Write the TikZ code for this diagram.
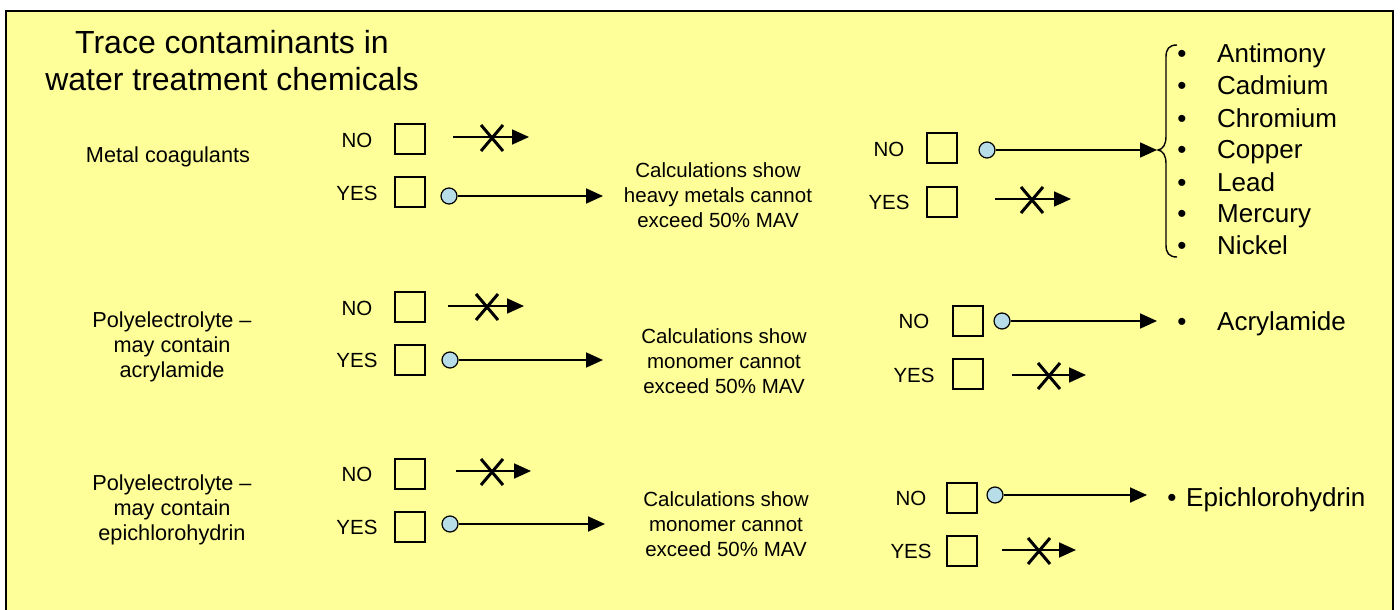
\documentclass[tikz,border=0pt]{standalone}
\usepackage{fontspec}
\setmainfont{Liberation Sans}
\usetikzlibrary{arrows.meta,calc}
\definecolor{bgyellow}{RGB}{255,255,153}
\definecolor{dotblue}{RGB}{183,221,232}
\tikzset{
 lbl/.style={font=\fontsize{20.5}{25}\selectfont, align=center, inner sep=0pt},
 side/.style={font=\fontsize{21.7}{25}\selectfont, align=center, inner sep=0pt},
 yn/.style={font=\fontsize{20.5}{25}\selectfont, inner sep=0pt, text height=14.7pt, text depth=0pt},
 ttl/.style={font=\fontsize{32}{37}\selectfont, align=center, inner sep=0pt},
 chk/.style={draw, line width=2pt, minimum width=30pt, minimum height=30pt, inner sep=0pt},
 dot/.style={circle, draw, line width=1.2pt, fill=dotblue, minimum size=16pt, inner sep=0pt},
 arr/.style={line width=1.8pt, -{Triangle[length=17pt,width=15pt]}},
 big/.style={font=\fontsize{26}{32}\selectfont, anchor=west, inner sep=0pt, text height=18.6pt, text depth=0pt},
 bul/.style={font=\fontsize{26}{32}\selectfont, inner sep=0pt, text height=18.6pt, text depth=0pt},
 cross/.style={line width=3pt},
}
\newcommand{\xmark}[1]{\draw[cross] ($(#1)+(-11,-13)$) -- ($(#1)+(11,13)$); \draw[cross] ($(#1)+(-11,13)$) -- ($(#1)+(11,-13)$);}
\begin{document}
\begin{tikzpicture}[x=1pt,y=-1pt]
\useasboundingbox (0,0) rectangle (1400,610);
\begin{scope}
\clip (0,0) rectangle (1400,610);
\fill[white] (0,0) rectangle (1400,610);
\draw[fill=bgyellow, line width=2pt] (6,11) rectangle (1393,650);
\end{scope}

% title
\node[ttl] (title) at (232,61) {Trace contaminants in\\water treatment chemicals};

% ---------- row 1 ----------
\node[side] (m1) at (168,157) {Metal coagulants};
\node[yn] (no1t) at (357,140) {NO};
\node[chk] (no1b) at (410,139) {};
\node[yn] (yes1t) at (357,193) {YES};
\node[chk] (yes1b) at (410,192) {};
\coordinate (no1s) at (453,137);
\coordinate (no1e) at (529,137);
\draw[arr] (no1s) -- (no1e);
\coordinate (x1) at (492,138);
\xmark{x1}
\node[dot] (yes1d) at (449,196) {};
\coordinate (c1in) at (603,196);
\draw[arr] (yes1d) -- (c1in);
\node[lbl] (c1) at (718,195) {Calculations show\\heavy metals cannot\\exceed 50\% MAV};

\node[yn] (rno1t) at (889,149) {NO};
\node[chk] (rno1b) at (942,148) {};
\node[yn] (ryes1t) at (889,202) {YES};
\node[chk] (ryes1b) at (942,202) {};
\node[dot] (rno1d) at (987,150) {};
\coordinate (brtip) at (1157,150);
\draw[arr] (rno1d) -- (brtip);
\coordinate (ry1s) at (995,199);
\coordinate (ry1e) at (1071,199);
\draw[arr] (ry1s) -- (ry1e);
\coordinate (x2) at (1032,200);
\xmark{x2}
% brace
\draw[line width=1.4pt] (1177,45) .. controls (1169,45) and (1166,49) .. (1166,57)
  -- (1166,136) .. controls (1166,145) and (1163,149) .. (1158,150)
  .. controls (1163,151) and (1166,155) .. (1166,164)
  -- (1166,245) .. controls (1166,253) and (1169,257) .. (1177,257);
% metals list
\foreach \n/\t/\y in {1/Antimony/53, 2/Cadmium/85, 3/Chromium/118, 4/Copper/149, 5/Lead/182, 6/Mercury/213, 7/Nickel/245}{
  \node[bul] (b\n) at (1182,\y) {•};
  \node[big] (met\n) at (1217,\y) {\t};
}

% ---------- row 2 ----------
\node[side] (m2) at (172,347) {Polyelectrolyte –\\may contain\\acrylamide};
\node[yn] (no2t) at (357,308) {NO};
\node[chk] (no2b) at (410,307) {};
\node[yn] (yes2t) at (357,360) {YES};
\node[chk] (yes2b) at (410,360) {};
\coordinate (no2s) at (448,306);
\coordinate (no2e) at (524,306);
\draw[arr] (no2s) -- (no2e);
\coordinate (x3) at (487,307);
\xmark{x3}
\node[dot] (yes2d) at (450,360) {};
\coordinate (c2in) at (603,360);
\draw[arr] (yes2d) -- (c2in);
\node[lbl] (c2) at (724,361) {Calculations show\\monomer cannot\\exceed 50\% MAV};

\node[yn] (rno2t) at (914,321) {NO};
\node[chk] (rno2b) at (968,321) {};
\node[yn] (ryes2t) at (914,375) {YES};
\node[chk] (ryes2b) at (968,374) {};
\node[dot] (rno2d) at (1002,321) {};
\coordinate (acin) at (1157,321);
\draw[arr] (rno2d) -- (acin);
\node[bul] (b8) at (1182,321) {•};
\node[big] (acr) at (1217,321) {Acrylamide};
\coordinate (ry2s) at (1012,375);
\coordinate (ry2e) at (1086,375);
\draw[arr] (ry2s) -- (ry2e);
\coordinate (x4) at (1049,376);
\xmark{x4}

% ---------- row 3 ----------
\node[side] (m3) at (172,510) {Polyelectrolyte –\\may contain\\epichlorohydrin};
\node[yn] (no3t) at (357,474) {NO};
\node[chk] (no3b) at (410,474) {};
\node[yn] (yes3t) at (357,527) {YES};
\node[chk] (yes3b) at (410,527) {};
\coordinate (no3s) at (456,471);
\coordinate (no3e) at (531,471);
\draw[arr] (no3s) -- (no3e);
\coordinate (x5) at (492,472);
\xmark{x5}
\node[dot] (yes3d) at (450,524) {};
\coordinate (c3in) at (605,524);
\draw[arr] (yes3d) -- (c3in);
\node[lbl] (c3) at (726,524) {Calculations show\\monomer cannot\\exceed 50\% MAV};

\node[yn] (rno3t) at (911,498) {NO};
\node[chk] (rno3b) at (962,498) {};
\node[yn] (ryes3t) at (911,551) {YES};
\node[chk] (ryes3b) at (962,551) {};
\node[dot] (rno3d) at (995,495) {};
\coordinate (epin) at (1147,495);
\draw[arr] (rno3d) -- (epin);
\node[bul] (b9) at (1172,497) {•};
\node[big] (epi) at (1186,497) {Epichlorohydrin};
\coordinate (ry3s) at (1002,550);
\coordinate (ry3e) at (1076,550);
\draw[arr] (ry3s) -- (ry3e);
\coordinate (x6) at (1039,551);
\xmark{x6}
\end{tikzpicture}
\end{document}
